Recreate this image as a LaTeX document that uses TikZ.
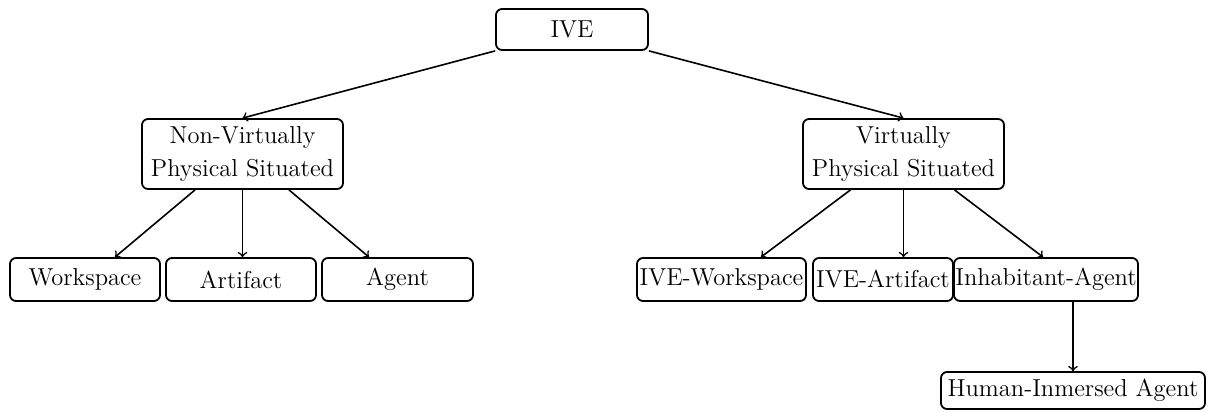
\documentclass[tikz,border=0pt]{standalone}
\usetikzlibrary{calc}
\begin{document}
\begin{tikzpicture}[x=0.5pt,y=-0.5pt,
  box/.style={draw,line width=0.9pt,rounded corners=3pt,inner sep=0pt,align=center,
    font=\fontsize{12.25}{16.5}\selectfont},
  arr/.style={->,line width=0.8pt}]
\useasboundingbox (0,0) rectangle (1208,412);
\node[box,minimum width=76pt,minimum height=20.5pt] (ive) at (572,29.5) {IVE};
\node[box,minimum width=100.5pt,minimum height=35pt] (nv) at (242.5,154) {Non-Virtually\\Physical Situated};
\node[box,minimum width=100.5pt,minimum height=35pt] (v) at (903.5,154) {Virtually\\Physical Situated};
\node[box,minimum width=75pt,minimum height=21.5pt] (ws) at (85,279.5) {Workspace};
\node[box,minimum width=75pt,minimum height=21.5pt] (art) at (241,279.5) {Artifact};
\node[box,minimum width=75.5pt,minimum height=21.5pt] (ag) at (397.5,279.5) {Agent};
\node[box,minimum width=84.5pt,minimum height=21.5pt] (iws) at (721.5,279.5) {IVE-Workspace};
\node[box,minimum width=70pt,minimum height=21.5pt] (iart) at (883,279.5) {IVE-Artifact};
\node[box,minimum width=92pt,minimum height=21.5pt] (inh) at (1046,279.5) {Inhabitant-Agent};
\node[box,minimum width=132pt,minimum height=18.5pt] (hum) at (1073,390.5) {Human-Inmersed Agent};
\draw[arr] (ive.south west) -- (nv.north);
\draw[arr] (ive.south east) -- (v.north);
\draw[arr] ($(nv.south)+(-47.5,0)$) -- ($(ws.north)+(30,0)$);
\draw[arr] (nv.south) -- (nv.south |- art.north);
\draw[arr] ($(nv.south)+(46.5,0)$) -- ($(ag.north)+(-28.5,0)$);
\draw[arr] ($(v.south)+(-53,0)$) -- ($(iws.north)+(39.5,0)$);
\draw[arr] (v.south) -- (v.south |- iart.north);
\draw[arr] ($(v.south)+(51,0)$) -- ($(inh.north)+(-3,0)$);
\draw[arr] (hum.north |- inh.south) -- (hum.north);
\end{tikzpicture}
\end{document}
